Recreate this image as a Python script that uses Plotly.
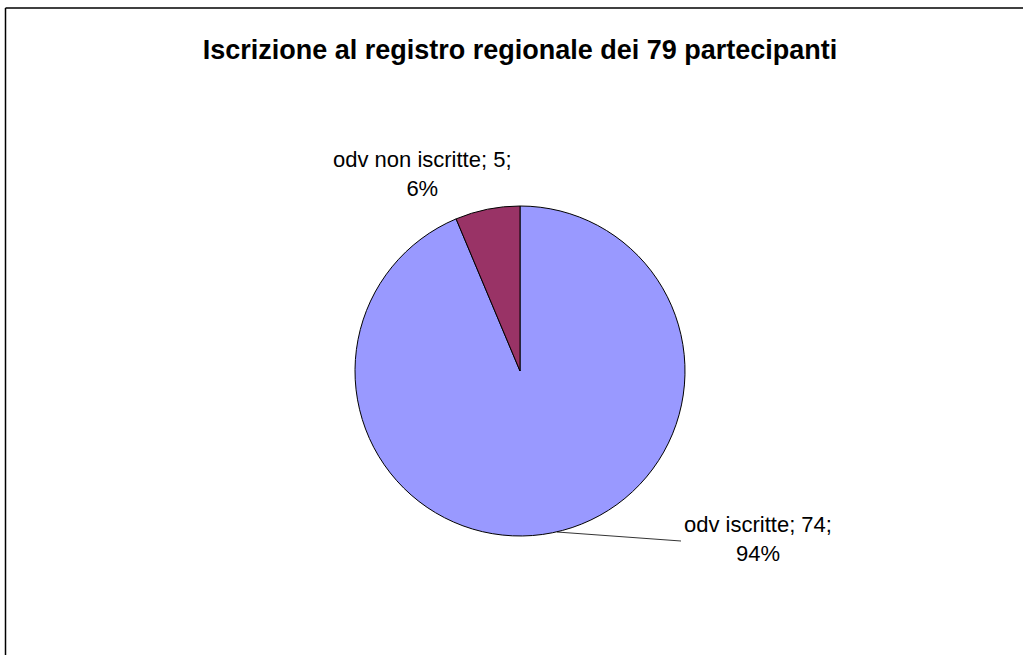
import plotly.graph_objects as go

labels = ["odv iscritte", "odv non iscritte"]
values = [74, 5]
colors = ["#9999FF", "#993366"]
title_text = "Iscrizione al registro regionale dei 79 partecipanti"

W, H = 1023, 655
total = sum(values)
pcts = [round(v / total * 100) for v in values]
label_texts = [f"{l}; {v};<br>{p}%" for l, v, p in zip(labels, values, pcts)]

cx, cy, r = 520, 371, 165

fig = go.Figure(go.Pie(
    labels=labels,
    values=values,
    sort=False,
    direction="clockwise",
    rotation=0,
    marker=dict(colors=colors, line=dict(color="black", width=1)),
    textinfo="none",
    showlegend=False,
    domain=dict(x=[(cx - r) / W, (cx + r) / W], y=[1 - (cy + r) / H, 1 - (cy - r) / H]),
))

font = dict(family="Liberation Sans, Arial, sans-serif", size=22, color="black")

fig.add_annotation(x=758 / W, y=1 - 539 / H, xref="paper", yref="paper",
                   xanchor="center", yanchor="middle",
                   text=label_texts[0], showarrow=False, font=font, align="center")
fig.add_annotation(x=422 / W, y=1 - 174 / H, xref="paper", yref="paper",
                   xanchor="center", yanchor="middle",
                   text=label_texts[1], showarrow=False, font=font, align="center")

frame = dict(color="black", width=1.5)
shapes = [
    dict(type="line", xref="paper", yref="paper",
         x0=557 / W, y0=1 - 532 / H, x1=681 / W, y1=1 - 541 / H,
         line=dict(color="black", width=0.8)),
    dict(type="line", xref="paper", yref="paper",
         x0=5.5 / W, y0=1 - 8 / H, x1=1.0, y1=1 - 8 / H, line=frame),
    dict(type="line", xref="paper", yref="paper",
         x0=5.5 / W, y0=1 - 8 / H, x1=5.5 / W, y1=0.0, line=frame),
]

fig.update_layout(
    width=W, height=H,
    margin=dict(l=0, r=0, t=0, b=0),
    paper_bgcolor="white",
    plot_bgcolor="white",
    title=dict(text="<b>" + title_text + "</b>", x=520 / W, xanchor="center",
               y=1 - 50 / H, yanchor="middle",
               font=dict(family="Liberation Sans, Arial, sans-serif", size=27, color="black")),
    shapes=shapes,
)

fig.write_html(
    "out.html",
    config={"displayModeBar": False},
    post_script="document.body.style.margin='0';document.body.style.overflow='hidden';",
)
